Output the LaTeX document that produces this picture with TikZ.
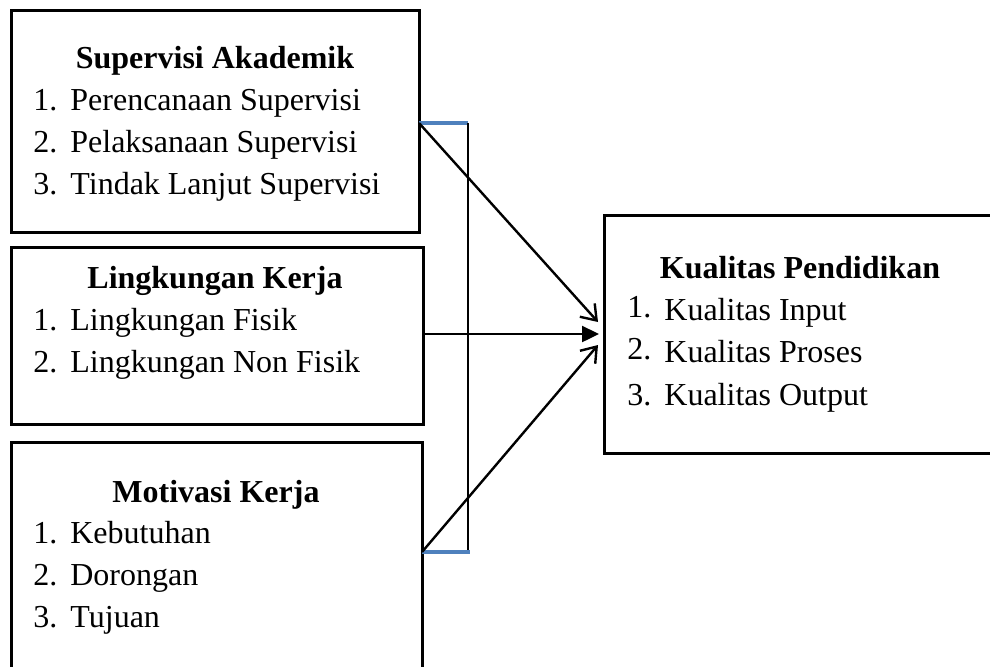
\documentclass[tikz,border=0pt]{standalone}
\usepackage{fontspec}
\setmainfont{Liberation Serif}
\usetikzlibrary{arrows.meta}
\definecolor{bracketblue}{HTML}{4F81BD}
\newcommand\itemnum[1]{\makebox[18.5pt][l]{#1}}
\begin{document}
\begin{tikzpicture}[x=0.5pt,y=-0.5pt,
  box/.style={draw, line width=1.5pt, anchor=north west, inner sep=0pt, outer sep=0pt},
  title/.style={anchor=base, inner sep=0pt, font=\fontsize{16}{19}\selectfont\bfseries},
  item/.style={anchor=base west, inner sep=0pt, font=\fontsize{16}{19}\selectfont},
  link/.style={line width=1.2pt, -{Straight Barb[length=7pt,width=10pt]}},
  mainlink/.style={line width=1.2pt, -{Triangle[length=8.5pt,width=8pt]}},
  bar/.style={draw=bracketblue, line width=1.6pt},
]
\useasboundingbox (0,0) rectangle (990,666);
\clip (0,0) rectangle (990,666);

% boxes
\node[box, minimum width=204pt, minimum height=111pt] (b1) at (11,10) {};
\node[box, minimum width=206pt, minimum height=88.5pt] (b2) at (11,247) {};
\node[box, minimum width=205.5pt, minimum height=119pt] (b3) at (11,442) {};
\node[box, minimum width=198pt, minimum height=119pt] (b4) at (604,215) {};

% box 1 text
\node[title] (t1) at (215,68) {Supervisi Akademik};
\node[item] (i11) at (33,110) {\itemnum{1.}Perencanaan Supervisi};
\node[item] (i12) at (33,152) {\itemnum{2.}Pelaksanaan Supervisi};
\node[item] (i13) at (33,194) {\itemnum{3.}Tindak Lanjut Supervisi};

% box 2 text
\node[title] (t2) at (215,288) {Lingkungan Kerja};
\node[item] (i21) at (33,330) {\itemnum{1.}Lingkungan Fisik};
\node[item] (i22) at (33,372) {\itemnum{2.}Lingkungan Non Fisik};

% box 3 text
\node[title] (t3) at (216,502) {Motivasi Kerja};
\node[item] (i31) at (33,543) {\itemnum{1.}Kebutuhan};
\node[item] (i32) at (33,585) {\itemnum{2.}Dorongan};
\node[item] (i33) at (33,627) {\itemnum{3.}Tujuan};

% box 4 text
\node[title] (t4) at (800,278) {Kualitas Pendidikan};
\node[item] (i41) at (627,320) {\itemnum{\raisebox{1.5pt}{1.}}Kualitas Input};
\node[item] (i42) at (627,362) {\itemnum{\raisebox{1.5pt}{2.}}Kualitas Proses};
\node[item] (i43) at (627,405) {\itemnum{3.}Kualitas Output};

% bracket
\coordinate (v1) at (468,123);
\coordinate (v2) at (468,552);
\coordinate (e3) at (470,552);
\coordinate (k1) at (598,322);
\coordinate (k3) at (598,345);
\draw[bar] (b1.east |- v1) -- (v1);
\draw[line width=1.1pt] (v1) -- (v2);
\draw[bar] (b3.east |- v2) -- (e3);

% arrows
\draw[link] (b1.east |- v1) -- (k1);
\draw[mainlink, shorten >=2.5pt] (b4.west -| b2.east) -- (b4.west);
\draw[link] (b3.east |- v2) -- (k3);
\end{tikzpicture}
\end{document}
